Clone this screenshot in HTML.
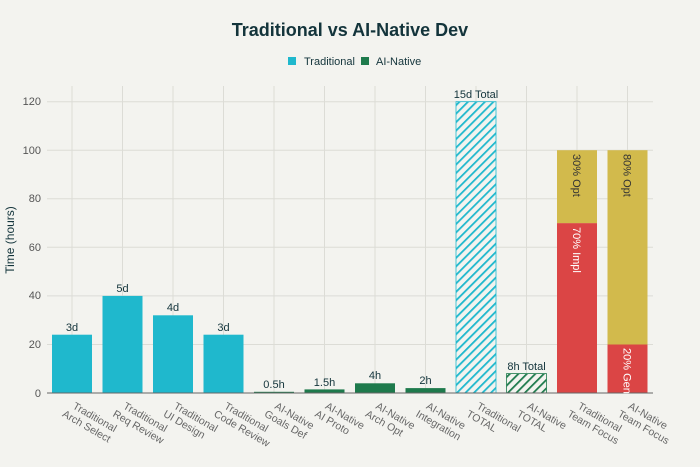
<!DOCTYPE html>
<html><head><meta charset="utf-8"><style>
html,body{margin:0;padding:0;background:#f3f3ef;}
svg{display:block;font-family:"Liberation Sans",sans-serif;}
</style></head><body>
<svg width="700" height="467" viewBox="0 0 700 467" xmlns="http://www.w3.org/2000/svg">
<defs>
<pattern id="ht" patternUnits="userSpaceOnUse" width="6" height="6" patternTransform="rotate(45)">
<rect width="6" height="6" fill="#f3f3ef"/><rect width="1.8" height="6" fill="#1fb8cd"/></pattern>
<pattern id="ha" patternUnits="userSpaceOnUse" width="6" height="6" patternTransform="rotate(45)">
<rect width="6" height="6" fill="#f3f3ef"/><rect width="1.8" height="6" fill="#1e7a4c"/></pattern>
</defs>
<rect width="700" height="467" fill="#f3f3ef"/>
<text x="350" y="36" text-anchor="middle" font-size="18" font-weight="bold" fill="#13343b">Traditional vs AI-Native Dev</text>
<rect x="288" y="57" width="8" height="8" fill="#1fb8cd"/>
<text x="304" y="65" font-size="11" fill="#13343b">Traditional</text>
<rect x="361" y="57" width="8" height="8" fill="#1e7a4c"/>
<text x="376" y="65" font-size="11" fill="#13343b">AI-Native</text>
<g stroke="#dcdcd6" stroke-width="1">
<line x1="47" x2="653" y1="101.7" y2="101.7"/><line x1="47" x2="653" y1="150.2" y2="150.2"/>
<line x1="47" x2="653" y1="198.8" y2="198.8"/><line x1="47" x2="653" y1="247.3" y2="247.3"/>
<line x1="47" x2="653" y1="295.9" y2="295.9"/><line x1="47" x2="653" y1="344.5" y2="344.5"/>
<line x1="72" x2="72" y1="86" y2="393"/><line x1="122.5" x2="122.5" y1="86" y2="393"/>
<line x1="173" x2="173" y1="86" y2="393"/><line x1="223.5" x2="223.5" y1="86" y2="393"/>
<line x1="274" x2="274" y1="86" y2="393"/><line x1="324.5" x2="324.5" y1="86" y2="393"/>
<line x1="375" x2="375" y1="86" y2="393"/><line x1="425.5" x2="425.5" y1="86" y2="393"/>
<line x1="476" x2="476" y1="86" y2="393"/><line x1="526.5" x2="526.5" y1="86" y2="393"/>
<line x1="577" x2="577" y1="86" y2="393"/><line x1="627.5" x2="627.5" y1="86" y2="393"/>
</g>
<g font-size="11" fill="#555" text-anchor="end">
<text x="41" y="105">120</text><text x="41" y="154">100</text><text x="41" y="202">80</text>
<text x="41" y="251">60</text><text x="41" y="299">40</text><text x="41" y="348">20</text><text x="41" y="397">0</text>
</g>
<text transform="translate(14,240) rotate(-90)" text-anchor="middle" font-size="12" fill="#13343b">Time (hours)</text>
<g fill="#1fb8cd">
<rect x="52" y="334.7" width="40" height="58.3"/><rect x="102.5" y="295.9" width="40" height="97.1"/>
<rect x="153" y="315.3" width="40" height="77.7"/><rect x="203.5" y="334.7" width="40" height="58.3"/>
</g>
<g fill="#1e7a4c">
<rect x="254" y="391.8" width="40" height="1.2"/><rect x="304.5" y="389.4" width="40" height="3.6"/>
<rect x="355" y="383.3" width="40" height="9.7"/><rect x="405.5" y="388.1" width="40" height="4.9"/>
</g>
<rect x="456" y="101.7" width="40" height="291.3" fill="url(#ht)" stroke="#1fb8cd" stroke-width="0.8"/>
<rect x="506.5" y="373.6" width="40" height="19.4" fill="url(#ha)" stroke="#1e7a4c" stroke-width="0.8"/>
<rect x="557" y="223.1" width="40" height="169.9" fill="#db4545"/>
<rect x="557" y="150.2" width="40" height="72.9" fill="#d2ba4c"/>
<rect x="607.5" y="344.5" width="40" height="48.5" fill="#db4545"/>
<rect x="607.5" y="150.2" width="40" height="194.3" fill="#d2ba4c"/>
<line x1="47" x2="653" y1="393" y2="393" stroke="#666" stroke-width="1"/>
<g font-size="11" fill="#13343b" text-anchor="middle">
<text x="72" y="331">3d</text><text x="122.5" y="292">5d</text><text x="173" y="311">4d</text>
<text x="223.5" y="331">3d</text><text x="274" y="388">0.5h</text><text x="324.5" y="386">1.5h</text>
<text x="375" y="379">4h</text><text x="425.5" y="384">2h</text>
<text x="476" y="98">15d Total</text><text x="526.5" y="370">8h Total</text>
</g>
<g font-size="11">
<text transform="translate(573,154) rotate(90)" fill="#333">30% Opt</text>
<text transform="translate(573,227) rotate(90)" fill="#fff">70% Impl</text>
<text transform="translate(623.5,154) rotate(90)" fill="#333">80% Opt</text>
<text transform="translate(623.5,348) rotate(90)" fill="#fff">20% Gen</text>
</g>
<g font-size="10.5" fill="#666">
<g transform="translate(72,408) rotate(30)"><text x="0" y="0">Traditional</text><text x="-5" y="12">Arch Select</text></g>
<g transform="translate(122.5,408) rotate(30)"><text x="0" y="0">Traditional</text><text x="-5" y="12">Req Review</text></g>
<g transform="translate(173,408) rotate(30)"><text x="0" y="0">Traditional</text><text x="-5" y="12">UI Design</text></g>
<g transform="translate(223.5,408) rotate(30)"><text x="0" y="0">Traditional</text><text x="-5" y="12">Code Review</text></g>
<g transform="translate(274,408) rotate(30)"><text x="0" y="0">AI-Native</text><text x="-5" y="12">Goals Def</text></g>
<g transform="translate(324.5,408) rotate(30)"><text x="0" y="0">AI-Native</text><text x="-5" y="12">AI Proto</text></g>
<g transform="translate(375,408) rotate(30)"><text x="0" y="0">AI-Native</text><text x="-5" y="12">Arch Opt</text></g>
<g transform="translate(425.5,408) rotate(30)"><text x="0" y="0">AI-Native</text><text x="-5" y="12">Integration</text></g>
<g transform="translate(476,408) rotate(30)"><text x="0" y="0">Traditional</text><text x="-5" y="12">TOTAL</text></g>
<g transform="translate(526.5,408) rotate(30)"><text x="0" y="0">AI-Native</text><text x="-5" y="12">TOTAL</text></g>
<g transform="translate(577,408) rotate(30)"><text x="0" y="0">Traditional</text><text x="-5" y="12">Team Focus</text></g>
<g transform="translate(627.5,408) rotate(30)"><text x="0" y="0">AI-Native</text><text x="-5" y="12">Team Focus</text></g>
</g>
</svg>
</body></html>
